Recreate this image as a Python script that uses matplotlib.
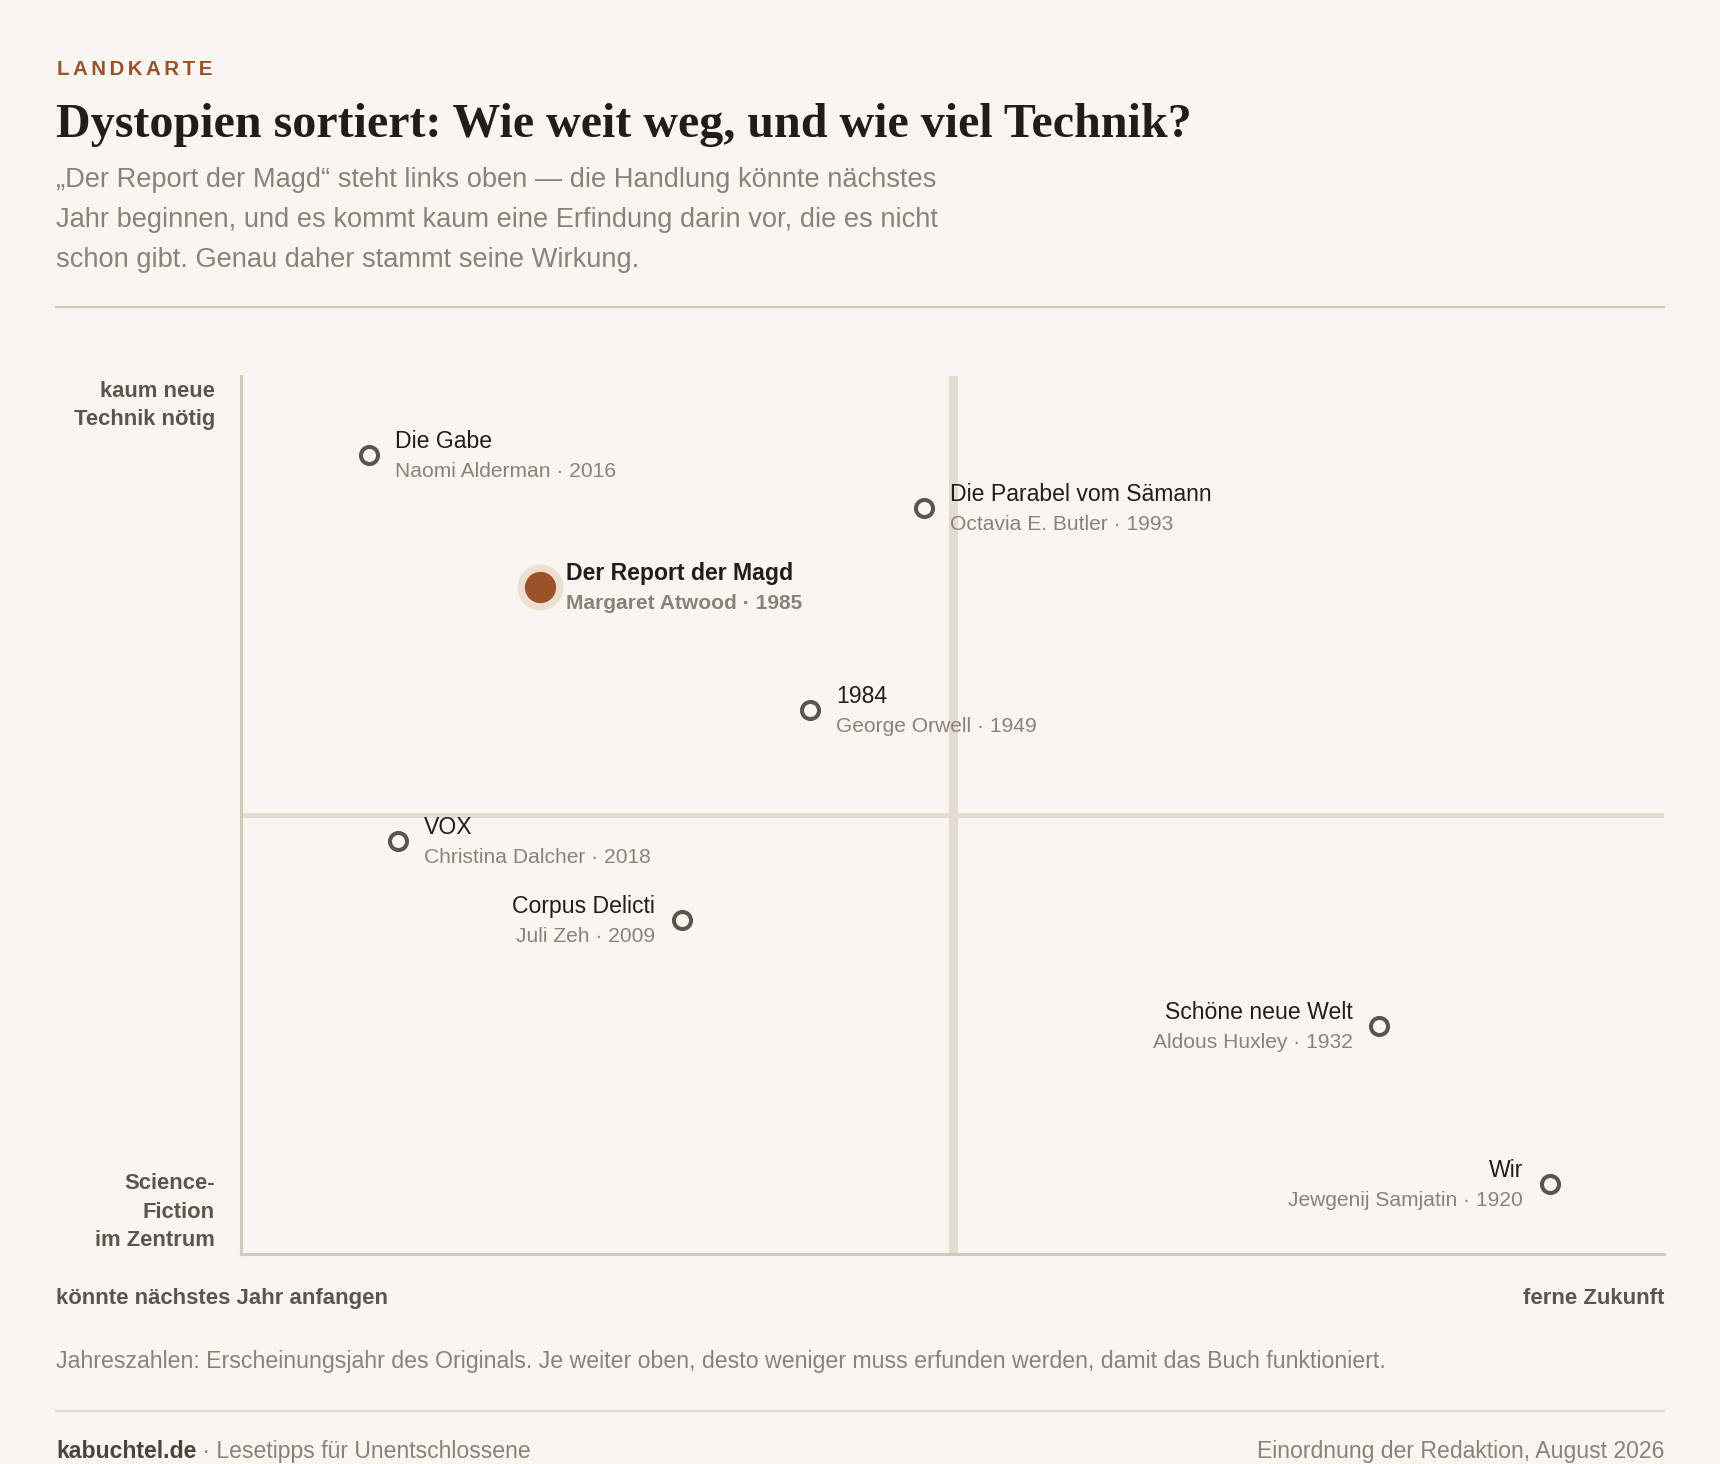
import matplotlib
matplotlib.use("Agg")
import matplotlib.pyplot as plt

# Daten: Position auf der Karte (0-100)
titles = ["Die Gabe", "Die Parabel vom Sämann", "Der Report der Magd", "1984",
          "VOX", "Corpus Delicti", "Schöne neue Welt", "Wir"]
authors = ["Naomi Alderman", "Octavia E. Butler", "Margaret Atwood", "George Orwell",
           "Christina Dalcher", "Juli Zeh", "Aldous Huxley", "Jewgenij Samjatin"]
years = [2016, 1993, 1985, 1949, 2018, 2009, 1932, 1920]
zukunft = [9, 48, 21, 40, 11, 31, 80, 92]      # x: naechstes Jahr -> ferne Zukunft
technik = [91, 85, 76, 62, 47, 38, 26, 8]      # y: Science-Fiction -> kaum neue Technik
label_side = ["r", "r", "r", "r", "r", "l", "l", "l"]
highlight = "Der Report der Magd"

BG = "#f9f6f1"
INK = "#211e1a"
GREY = "#8a827a"
DARK = "#5b554e"
RUST = "#9b5228"
RULE = "#d3c9ba"
MID = "#e4dcd0"
SANS = ["Liberation Sans", "DejaVu Sans"]
SERIF = ["Liberation Serif", "DejaVu Serif"]

W, H = 1720, 1464
fig = plt.figure(figsize=(W / 100, H / 100), dpi=100, facecolor=BG)


def px(x, y):
    return x / W, 1 - y / H


def ftext(x, y, s, size, **kw):
    kw.setdefault("family", SANS)
    kw.setdefault("va", "baseline")
    return fig.text(*px(x, y), s, fontsize=size * 0.72, **kw)


# Kopf
ftext(57, 75, "\u200a\u200a".join("LANDKARTE"), 20.5, color=RUST, weight="bold")
ftext(56, 137, "Dystopien sortiert: Wie weit weg, und wie viel Technik?", 48,
      color=INK, weight="bold", family=SERIF)
sub = ["„Der Report der Magd“ steht links oben — die Handlung könnte nächstes",
       "Jahr beginnen, und es kommt kaum eine Erfindung darin vor, die es nicht",
       "schon gibt. Genau daher stammt seine Wirkung."]
for i, line in enumerate(sub):
    ftext(56, 187 + i * 40, line, 27.3, color=GREY)

fig.add_artist(plt.Line2D([56 / W, 1664 / W], [1 - 307 / H] * 2, color=RULE, lw=1.6))

# Karte
ax = fig.add_axes([241 / W, 1 - 1254 / H, (1664 - 241) / W, (1254 - 376) / H])
ax.set_facecolor(BG)
ax.set_xlim(0, 100)
ax.set_ylim(0, 100)
for s in ["top", "right"]:
    ax.spines[s].set_visible(False)
for s in ["left", "bottom"]:
    ax.spines[s].set_color(RULE)
    ax.spines[s].set_linewidth(2.2)
ax.set_xticks([])
ax.set_yticks([])
ax.axvline(50, color=MID, lw=6.5, zorder=1)
ax.axhline(50, color=MID, lw=3.6, zorder=1)

for t, a, yr, x, y, side in zip(titles, authors, years, zukunft, technik, label_side):
    hl = t == highlight
    if hl:
        ax.plot(x, y, "o", ms=32, color="#ecdfd2", zorder=3)
        ax.plot(x, y, "o", ms=21.5, color=RUST, zorder=4)
    else:
        ax.plot(x, y, "o", ms=12.3, mfc=BG, mec=DARK, mew=2.9, zorder=4)
    dx = 26 if side == "r" else -27
    ha = "left" if side == "r" else "right"
    w = "bold" if hl else "normal"
    ax.annotate(t, (x, y), xytext=(dx * 0.72, 7 * 0.72), textcoords="offset points",
                ha=ha, va="baseline", fontsize=23 * 0.72, color=INK, weight=w,
                family=SANS, zorder=5)
    ax.annotate(f"{a} · {yr}", (x, y), xytext=(dx * 0.72, -22 * 0.72),
                textcoords="offset points", ha=ha, va="baseline",
                fontsize=21 * 0.72, color=GREY, weight=w, family=SANS, zorder=5)

# Achsen-Beschriftung
for i, line in enumerate(["kaum neue", "Technik nötig"]):
    ftext(215, 397 + i * 28.5, line, 22, color=DARK, weight="bold", ha="right")
for i, line in enumerate(["Science-", "Fiction", "im Zentrum"]):
    ftext(215, 1189 + i * 28.5, line, 22, color=DARK, weight="bold", ha="right")
ftext(56, 1304, "könnte nächstes Jahr anfangen", 22.1, color=DARK, weight="bold")
ftext(1664, 1304, "ferne Zukunft", 22.1, color=DARK, weight="bold", ha="right")

# Fuss
ftext(56, 1368, "Jahreszahlen: Erscheinungsjahr des Originals. Je weiter oben, desto weniger "
      "muss erfunden werden, damit das Buch funktioniert.", 23.1, color=GREY)
fig.add_artist(plt.Line2D([56 / W, 1664 / W], [1 - 1411 / H] * 2, color=MID, lw=1.6))
t1 = ftext(56, 1458, "kabuchtel.de", 23, color="#4a443e", weight="bold")
fig.canvas.draw()
bb = t1.get_window_extent()
ftext(bb.x1, 1458, " · Lesetipps für Unentschlossene", 23, color=GREY)
ftext(1664, 1458, "Einordnung der Redaktion, August 2026", 23, color=GREY, ha="right")

fig.savefig("out.png", dpi=100, facecolor=BG)
